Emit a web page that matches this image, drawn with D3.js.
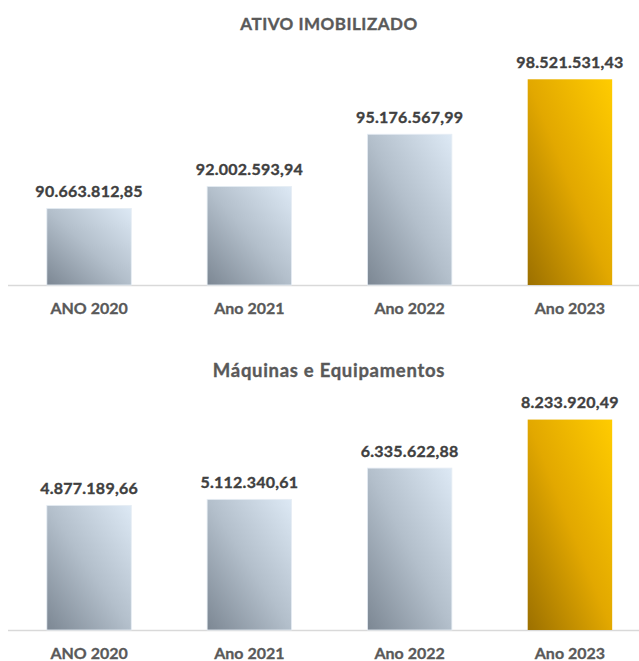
<!DOCTYPE html>
<html lang="pt">
  <head>
    <meta charset="UTF-8" />
    <title>Ativo Imobilizado</title>
    <script src="https://d3js.org/d3.v7.min.js"></script>
    <style>
      body {
        margin: 0;
        background: #fff;
      }
      svg {
        display: block;
        font-family: Lato, "Open Sans", sans-serif;
      }
      .chart-title {
        font-weight: bold;
        fill: #595959;
        stroke: #595959;
        stroke-width: 0.35px;
        text-anchor: middle;
      }
      .value-label {
        font-size: 16px;
        font-weight: bold;
        letter-spacing: 0.25px;
        fill: #404040;
        stroke: #404040;
        stroke-width: 0.35px;
        text-anchor: middle;
      }
      .cat-label {
        font-size: 16px;
        font-weight: bold;
        fill: #595959;
        stroke: #595959;
        stroke-width: 0.3px;
        text-anchor: middle;
      }
    </style>
  </head>
  <body>
    <svg id="chart" width="639" height="661"></svg>

    <script>
      // Data
      var categories = ["ANO 2020", "Ano 2021", "Ano 2022", "Ano 2023"];
      var ativoValues = [90663812.85, 92002593.94, 95176567.99, 98521531.43];
      var maquinasValues = [4877189.66, 5112340.61, 6335622.88, 8233920.49];
      var ativoDomain = [86000000, 100000000];
      var maquinasDomain = [0, 9000000];

      var svg = d3.select("#chart");

      // Gradients (diagonal, dark at bottom-left)
      var defs = svg.append("defs");
      function addGradient(id, stops) {
        var grad = defs
          .append("linearGradient")
          .attr("id", id)
          .attr("x1", 0)
          .attr("y1", 1)
          .attr("x2", 1)
          .attr("y2", 0);
        stops.forEach(function (s) {
          grad.append("stop").attr("offset", s[0]).attr("stop-color", s[1]);
        });
      }
      addGradient("grayGrad", [
        [0, "#7c8793"],
        [0.5, "#b3bfcb"],
        [1, "#dde9f5"],
      ]);
      addGradient("goldGrad", [
        [0, "#9c7000"],
        [0.5, "#e2a800"],
        [1, "#ffcc00"],
      ]);

      var fmt = d3.formatLocale({
        decimal: ",",
        thousands: ".",
        grouping: [3],
        currency: ["R$", ""],
      }).format(",.2f");

      var x = d3
        .scaleBand()
        .domain(categories)
        .range([9, 650])
        .paddingInner(0.473)
        .paddingOuter(0.236);

      function drawChart(title, titleSize, titleSpacing, values, domain, baseline, titleY) {
        var y = d3.scaleLinear().domain(domain).range([baseline, baseline - 230]);
        var g = svg.append("g");

        g.append("text")
          .attr("class", "chart-title")
          .attr("x", 329)
          .attr("y", titleY)
          .style("font-size", titleSize + "px")
          .style("letter-spacing", titleSpacing + "px")
          .text(title);

        // baseline axis line
        g.append("line")
          .attr("x1", 8)
          .attr("x2", 639)
          .attr("y1", baseline + 0.5)
          .attr("y2", baseline + 0.5)
          .attr("stroke", "#d9d9d9")
          .attr("stroke-width", 1.5);

        g.selectAll(".bar")
          .data(values)
          .enter()
          .append("rect")
          .attr("class", "bar")
          .attr("x", function (d, i) {
            return x(categories[i]);
          })
          .attr("width", x.bandwidth())
          .attr("y", function (d) {
            return y(d);
          })
          .attr("height", function (d) {
            return baseline - y(d);
          })
          .attr("fill", function (d, i) {
            return i === values.length - 1 ? "url(#goldGrad)" : "url(#grayGrad)";
          })
          .attr("stroke", function (d, i) {
            return i === values.length - 1 ? "none" : "#e6edf4";
          })
          .attr("stroke-width", 0.8);

        g.selectAll(".value-label")
          .data(values)
          .enter()
          .append("text")
          .attr("class", "value-label")
          .attr("x", function (d, i) {
            return x(categories[i]) + x.bandwidth() / 2;
          })
          .attr("y", function (d) {
            return y(d) - 11.5;
          })
          .text(function (d) {
            return fmt(d);
          });

        g.selectAll(".cat-label")
          .data(categories)
          .enter()
          .append("text")
          .attr("class", "cat-label")
          .attr("x", function (d) {
            return x(d) + x.bandwidth() / 2;
          })
          .attr("y", baseline + 29)
          .text(function (d) {
            return d;
          });
      }

      drawChart("ATIVO IMOBILIZADO", 17, 0.5, ativoValues, ativoDomain, 285, 30);
      drawChart("Máquinas e Equipamentos", 18.5, 0.7, maquinasValues, maquinasDomain, 630, 376.5);
    </script>
  </body>
</html>
